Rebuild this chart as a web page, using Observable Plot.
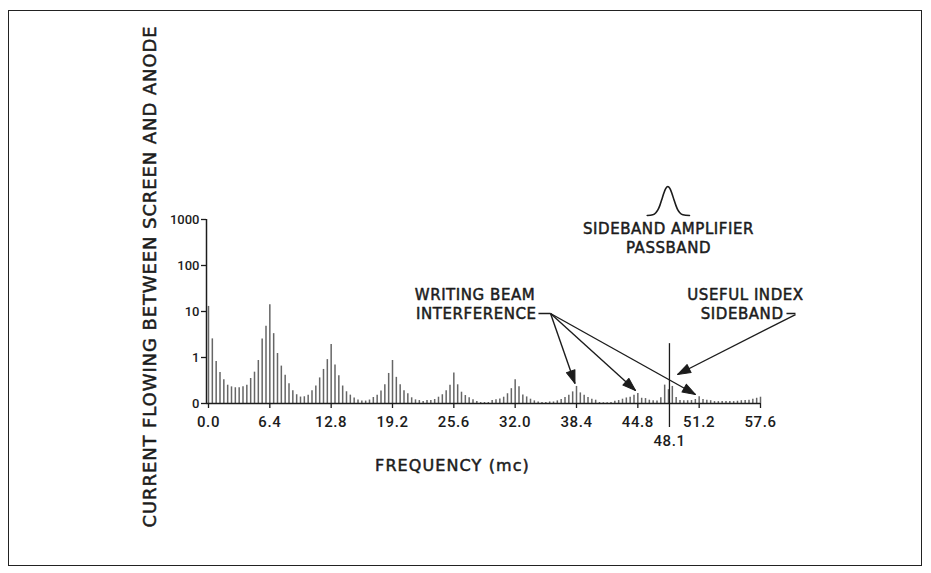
<!DOCTYPE html>
<html>
<head>
<meta charset="utf-8">
<script src="https://cdn.jsdelivr.net/npm/d3@7"></script>
<script src="https://cdn.jsdelivr.net/npm/@observablehq/plot@0.6"></script>
<style>
  html, body { margin: 0; padding: 0; background: #fff; }
  #wrap { position: relative; width: 931px; height: 573px; }
  #border { position: absolute; left: 8px; top: 10px; width: 914px; height: 556px;
            border: 1.5px solid #222; box-sizing: border-box; pointer-events: none; }
</style>
</head>
<body>
<div id="wrap"><div id="border"></div></div>
<script>
// ---------- data ----------
const lineSpacing = 0.4; // mc between spectral lines
const xTicks = [0, 6.4, 12.8, 19.2, 25.6, 32.0, 38.4, 44.8, 51.2, 57.6];
const yTicks = [0.1, 1, 10, 100, 1000];
const yTickLabels = ["0", "1", "10", "100", "1000"];

// line amplitudes, one array per 6.4 mc band
const band_00_06 = [12.9, 2.54, 0.82, 0.47, 0.33, 0.25, 0.23, 0.22, 0.22, 0.23, 0.25, 0.35, 0.48, 0.86, 2.54, 4.8];
const band_06_12 = [14, 3.3, 1.22, 0.65, 0.41, 0.27, 0.19, 0.155, 0.138, 0.14, 0.152, 0.19, 0.24, 0.36, 0.55, 0.9];
const band_12_19 = [1.92, 0.69, 0.40, 0.24, 0.18, 0.152, 0.131, 0.119, 0.113, 0.113, 0.119, 0.135, 0.152, 0.186, 0.255, 0.45];
const band_19_25 = [0.86, 0.37, 0.255, 0.19, 0.163, 0.133, 0.12, 0.116, 0.11, 0.116, 0.116, 0.122, 0.137, 0.155, 0.19, 0.25];
const band_25_32 = [0.46, 0.255, 0.176, 0.149, 0.133, 0.12, 0.11, 0.105, 0.105, 0.105, 0.116, 0.12, 0.126, 0.137, 0.163, 0.21];
const band_32_38 = [0.33, 0.23, 0.153, 0.139, 0.124, 0.114, 0.108, 0.105, 0.105, 0.108, 0.108, 0.114, 0.122, 0.135, 0.151, 0.179];
const band_38_44 = [0.235, 0.17, 0.151, 0.135, 0.124, 0.118, 0.105, 0.104, 0.104, 0.105, 0.112, 0.116, 0.124, 0.132, 0.137, 0.151];
const band_44_51 = [0.165, 0.13, 0.128, 0.118, 0.115, 0.113, 0.133, 0.251, 0.2, 0.235, 0.135, 0.116, 0.115, 0.115, 0.116, 0.122];
const band_51_57 = [0.14, 0.122, 0.118, 0.115, 0.11, 0.11, 0.11, 0.11, 0.11, 0.11, 0.112, 0.115, 0.116, 0.118, 0.124, 0.13, 0.137];

const indexSideband = [{freq: 48.1, current: 2.0, label: "48.1"}];

// sideband amplifier passband sketch
const passbandFreq  = [45.78, 46.36, 46.68, 46.89, 47.10, 47.30, 47.51, 47.72, 47.93, 48.14, 48.35, 48.56, 48.77, 48.97, 49.18, 49.50, 50.19];
const passbandLevel = [1222, 1265, 1399, 1610, 2027, 2721, 3732, 4745, 5216, 4745, 3732, 2721, 2027, 1610, 1399, 1265, 1222];

// annotations (in chart coordinates: freq in mc, current)
const notesCentered = [
  {text: "SIDEBAND AMPLIFIER", freq: 48.0, current: 606},
  {text: "PASSBAND", freq: 48.0, current: 240},
  {text: "WRITING BEAM", freq: 27.81, current: 22.3},
  {text: "USEFUL INDEX", freq: 56.03, current: 22.3}
];
const notesEnd = [
  {text: "INTERFERENCE", freq: 34.23, current: 8.83},
  {text: "SIDEBAND", freq: 60.0, current: 8.83}
];
const leaders = [
  {f1: 34.43, f2: 35.69, c: 9.05},
  {f1: 60.31, f2: 61.25, c: 9.05}
];
const arrows = [
  {f1: 35.69, c1: 9.05, f2: 38.24, c2: 0.272},
  {f1: 35.69, c1: 9.05, f2: 44.56, c2: 0.192},
  {f1: 35.69, c1: 9.05, f2: 50.82, c2: 0.157},
  {f1: 61.25, c1: 8.6, f2: 48.94, c2: 0.427}
];

const xLabel = "FREQUENCY (mc)";
const yLabel = "CURRENT FLOWING BETWEEN SCREEN AND ANODE";

// ---------- build ----------
const current = [band_00_06, band_06_12, band_12_19, band_19_25, band_25_32,
                 band_32_38, band_38_44, band_44_51, band_51_57].flat();
const spectrum = current.map((c, i) => ({freq: i * lineSpacing, current: c}));
const passband = passbandFreq.map((f, i) => ({freq: f, current: passbandLevel[i]}));

const W = 931, H = 573;
const xScale = {domain: [0, 57.6], range: [208, 760]};
const yScale = {type: "log", domain: [0.1, 1000], range: [403, 219]};
const sx = Plot.scale({x: xScale});
const sy = Plot.scale({y: yScale});
arrows.forEach(a => {
  const dx = sx.apply(a.f2) - sx.apply(a.f1);
  const dy = sy.apply(a.c2) - sy.apply(a.c1);
  a.angle = Math.atan2(dx, -dy) * 180 / Math.PI;
});

const ink = "#1c1c1c";
const font = "Roboto, 'DejaVu Sans', sans-serif";
const letterFont = "'DejaVu Sans', Roboto, sans-serif";
const headShape = {
  draw(ctx, l, r) { ctx.moveTo(0, -l); ctx.lineTo(r, 0); ctx.lineTo(-r, 0); ctx.closePath(); }
};
const noteStyle = {fontFamily: letterFont, fontSize: 15, fill: ink, stroke: ink, strokeWidth: 0.5};

const chart = Plot.plot({
  width: W, height: H,
  marginLeft: 208, marginRight: W - 760, marginTop: 219, marginBottom: H - 403,
  x: xScale, y: yScale,
  style: {fontFamily: font, color: ink, background: "transparent"},
  marks: [
    // spectral lines
    Plot.ruleX(spectrum, {x: "freq", y1: 0.1, y2: "current", stroke: "#666", strokeWidth: 1.5}),
    // axes lines
    Plot.ruleX([0], {dx: -2, stroke: ink, strokeWidth: 1.5}),
    Plot.ruleY([0.1], {x1: 0, x2: 57.6, insetLeft: -2, stroke: ink, strokeWidth: 1.5}),
    Plot.axisY({ticks: yTicks, tickFormat: d => yTickLabels[yTicks.indexOf(d)], tickSize: 5, tickPadding: 2,
                dx: -2, label: null, fontSize: 13, fontWeight: 500, stroke: ink, strokeWidth: 1.3}),
    Plot.axisX({ticks: xTicks, tickFormat: d => d.toFixed(1), tickSize: 5, tickPadding: 8,
                label: null, fontSize: 15, fontWeight: 500, stroke: ink, strokeWidth: 1.3}),
    // index sideband marker line and its label
    Plot.ruleX(indexSideband, {x: "freq", y1: "current", y2: 0.1, insetBottom: -24, stroke: ink, strokeWidth: 1.3}),
    Plot.text(indexSideband, {x: "freq", frameAnchor: "bottom", lineAnchor: "middle", dy: 38, text: "label",
                              fontSize: 15, fontWeight: 500, fill: ink}),
    // passband sketch
    Plot.line(passband, {x: "freq", y: "current", curve: "monotone-x", stroke: ink, strokeWidth: 1.6}),
    // annotation texts
    Plot.text(notesCentered, {x: "freq", y: "current", text: "text", textAnchor: "middle", ...noteStyle}),
    Plot.text(notesEnd, {x: "freq", y: "current", text: "text", textAnchor: "end", ...noteStyle}),
    Plot.link(leaders, {x1: "f1", x2: "f2", y1: "c", y2: "c", stroke: ink, strokeWidth: 1.5}),
    Plot.link(arrows, {x1: "f1", y1: "c1", x2: "f2", y2: "c2", stroke: ink, strokeWidth: 1.4}),
    Plot.vector(arrows, {x: "f2", y: "c2", rotate: "angle", length: 13, r: 4.5, anchor: "end",
                         shape: headShape, fill: ink, stroke: ink, strokeWidth: 1}),
    // axis titles
    Plot.text([yLabel], {frameAnchor: "left", textAnchor: "middle", lineAnchor: "middle", dx: -58, dy: -35,
                         rotate: -90, text: d => d, ...noteStyle, fontSize: 18}),
    Plot.text([xLabel], {frameAnchor: "bottom", textAnchor: "middle", lineAnchor: "middle", dx: -32, dy: 62,
                         text: d => d, ...noteStyle, fontSize: 16})
  ]
});

// letter spacing of the lettering (by text)
const spacing = new Map([[yLabel, 0.9], [xLabel, 1.1]]);
[...notesCentered, ...notesEnd].forEach(n => spacing.set(n.text, 0.55));
xTicks.forEach(t => spacing.set(t.toFixed(1), 0.6));
spacing.set(indexSideband[0].label, 0.6);
d3.select(chart).selectAll("text").each(function () {
  const s = spacing.get(this.textContent);
  if (s != null) this.style.letterSpacing = s + "px";
});

document.getElementById("wrap").prepend(chart);
</script>
</body>
</html>
